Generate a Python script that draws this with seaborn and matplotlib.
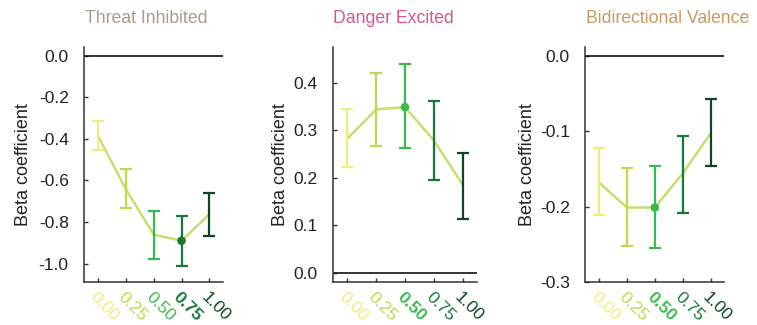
"""Beta coefficients across mixing levels for three valence models."""
import matplotlib
matplotlib.use("Agg")
import matplotlib.pyplot as plt
import matplotlib.transforms as mtransforms
import numpy as np
import pandas as pd
import seaborn as sns

levels = ["0.00", "0.25", "0.50", "0.75", "1.00"]
level_colors = ["#ecee80", "#bfd84c", "#3cb94e", "#17773a", "#0e4622"]
line_color = "#c6df70"

threat_mean = [-0.385, -0.642, -0.860, -0.890, -0.762]
threat_lo = [-0.454, -0.731, -0.977, -1.009, -0.868]
threat_hi = [-0.314, -0.545, -0.747, -0.771, -0.658]

danger_mean = [0.283, 0.344, 0.349, 0.279, 0.186]
danger_lo = [0.222, 0.267, 0.263, 0.196, 0.114]
danger_hi = [0.344, 0.421, 0.439, 0.361, 0.253]

bidir_mean = [-0.168, -0.201, -0.201, -0.156, -0.103]
bidir_lo = [-0.211, -0.252, -0.255, -0.208, -0.146]
bidir_hi = [-0.122, -0.149, -0.146, -0.107, -0.058]

panels = [
    dict(title="Threat Inhibited", color="#a89d88", mean=threat_mean, lo=threat_lo,
         hi=threat_hi, best=3, ylim=(-1.09, 0.04), yticks=np.arange(-1.0, 0.01, 0.2),
         rect=[0.111, 0.131, 0.184, 0.7237], title_x=0.193, label_x=-0.377),
    dict(title="Danger Excited", color="#d6578e", mean=danger_mean, lo=danger_lo,
         hi=danger_hi, best=2, ylim=(-0.02, 0.475), yticks=np.arange(0.0, 0.41, 0.1),
         rect=[0.440, 0.131, 0.190, 0.7237], title_x=0.520, label_x=-0.309),
    dict(title="Bidirectional Valence", color="#c89a60", mean=bidir_mean, lo=bidir_lo,
         hi=bidir_hi, best=2, ylim=(-0.3, 0.011), yticks=np.arange(-0.3, 0.01, 0.1),
         rect=[0.773, 0.131, 0.184, 0.7237], title_x=0.882, label_x=-0.356),
]

sns.set_style("ticks")
plt.rcParams["font.family"] = ["Liberation Sans", "DejaVu Sans"]

fig = plt.figure(figsize=(7.57, 3.25), dpi=100)
shift = mtransforms.ScaledTranslation(-4 / 72, 0, fig.dpi_scale_trans)

for p in panels:
    ax = fig.add_axes(p["rect"])
    df = pd.DataFrame({"x": np.arange(len(levels)), "beta": p["mean"]})
    sns.lineplot(data=df, x="x", y="beta", color=line_color, lw=1.8, ax=ax, zorder=2)
    for i, c in enumerate(level_colors):
        m = p["mean"][i]
        ax.errorbar(i, m, yerr=[[m - p["lo"][i]], [p["hi"][i] - m]], fmt="none",
                    ecolor=c, elinewidth=1.6, capsize=4.3, capthick=1.6, zorder=3)
    b = p["best"]
    sns.scatterplot(x=[b], y=[p["mean"][b]], color=level_colors[b], s=38,
                    edgecolor="none", ax=ax, zorder=4)
    ax.axhline(0, color="#111111", lw=1.2, zorder=1)

    ax.set_xlim(-0.5, 4.5)
    ax.set_ylim(*p["ylim"])
    ax.tick_params(axis="y", direction="in", length=3, width=1, pad=11,
                   labelsize=12.5, colors="#333333", labelcolor="#222222")
    ax.tick_params(axis="x", direction="in", length=3, width=1, pad=9,
                   labelsize=12.5, colors="#333333")
    ax.set_yticks(p["yticks"])
    ax.set_yticklabels([f"{abs(v):.1f}" if abs(v) < 1e-9 else f"{v:.1f}"
                        for v in p["yticks"]])
    ax.set_xticks(np.arange(len(levels)))
    ax.set_xticklabels(levels, rotation=-45, rotation_mode="anchor",
                       ha="left", va="center")
    for i, lab in enumerate(ax.get_xticklabels()):
        lab.set_color(level_colors[i])
        lab.set_transform(lab.get_transform() + shift)
        if i == b:
            lab.set_fontweight("bold")
    for side in ("top", "right"):
        ax.spines[side].set_visible(False)
    for side in ("left", "bottom"):
        ax.spines[side].set_color("#333333")
        ax.spines[side].set_linewidth(1.1)
    ax.set_xlabel("")
    ax.set_ylabel("Beta coefficient", fontsize=13, color="#222222")
    ax.yaxis.set_label_coords(p["label_x"], 0.5)
    fig.text(p["title_x"], 0.943, p["title"], color=p["color"], fontsize=12.7,
             ha="center", va="center")

fig.savefig("out.png", dpi=100)
